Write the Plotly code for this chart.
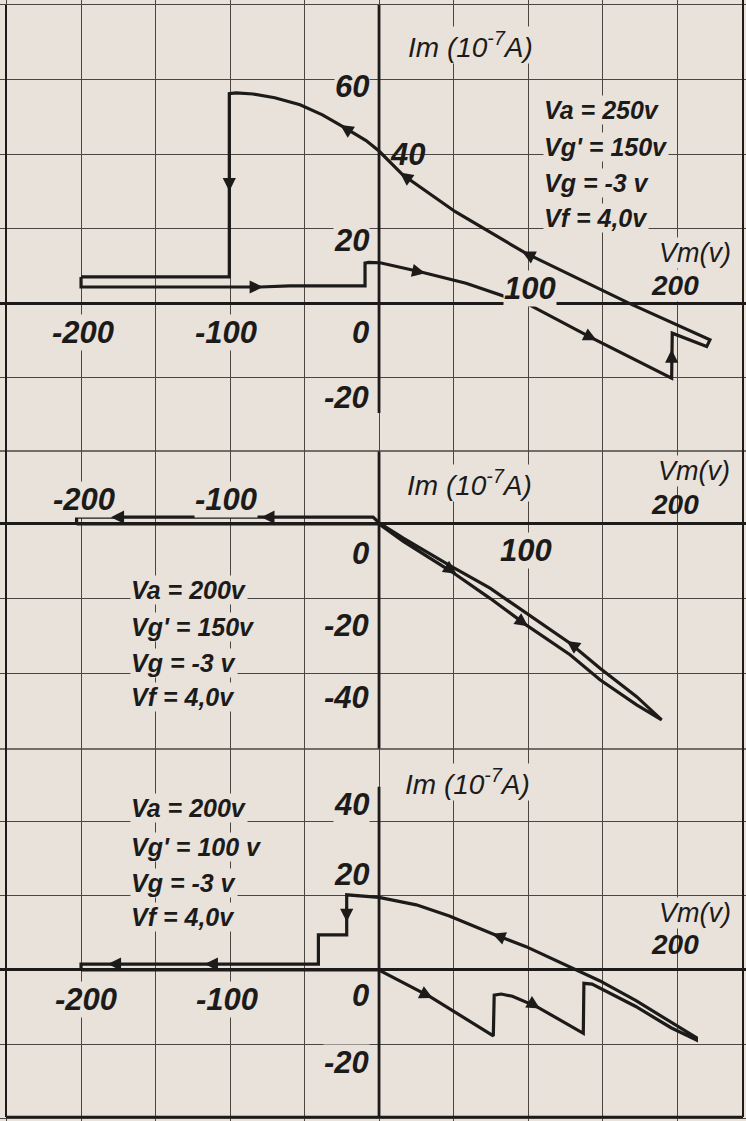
import plotly.graph_objects as go

# ---------------- data (Vm in volts, Im in 1e-7 A) ----------------
# Panel 1: Va = 250 V, Vg' = 150 V
p1_vm = [-200, -200, -80, -60, -9.4, -9.4, -7, 0.7, 27.5, 58.4, 100.9, 143.4, 196.4,
         196.8, 219.9, 222.1, 168, 98.7, 51.2, 15.9, 0, -8.7, -24, -38, -53, -70, -84.5,
         -96, -100.5, -100.5, -200]
p1_im = [7.0, 4.3, 4.3, 4.6, 4.6, 10.7, 10.9, 10.8, 8.4, 5.3, -0.5, -9.5, -20.2,
         -8.1, -11.7, -9.9, -0.1, 13.3, 24.5, 34.4, 40.8, 43.6, 47.3, 50.5, 53.2, 55.1,
         56.1, 56.4, 56.2, 7.0, 7.0]

# Panel 2: Va = 200 V, Vg' = 150 V
p2_vm = [-203, 0, 16.3, 48.8, 74.5, 98.7, 128.2, 148.3, 172.9, 189.7, 172.9, 148.3,
         128.2, 98.7, 74.5, 48.8, 16.3, 0, -4, -203, -203]
p2_im = [0, 0, -4.7, -12.8, -19.9, -27.0, -35.0, -41.7, -48.4, -52.4, -46.2, -38.6,
         -31.9, -23.9, -17.2, -11.4, -3.8, 0.3, 1.8, 1.8, 0]

# Panel 3: Va = 200 V, Vg' = 100 V
p3_vm = [-200, 0, 34.2, 76.7, 77.3, 82, 89.5, 105.8, 137.1, 137.5, 143, 172, 196, 213,
         213, 196, 172.5, 148, 123.7, 98.7, 78.5, 47.2, 25, 0, -21.7, -21.7, -40.7,
         -40.7, -200, -200]
p3_im = [0, 0, -7.2, -17.8, -6.8, -6.5, -7.1, -9.9, -17.1, -3.6, -3.8, -9.8, -15.6, -18.9,
         -18.3, -14.2, -8.3, -2.9, 1.6, 6.3, 9.4, 14.6, 17.6, 19.6, 20.3, 9.5, 9.5,
         1.6, 1.6, 0]

params = [
    ["Va = 250v", "Vg' = 150v", "Vg = -3 v", "Vf = 4,0v"],
    ["Va = 200v", "Vg' = 150v", "Vg = -3 v", "Vf = 4,0v"],
    ["Va = 200v", "Vg' = 100 v", "Vg = -3 v", "Vf = 4,0v"],
]
x_ticks = ["-200", "-100", "100", "200"]
y_ticks = [["60", "40", "20", "0", "-20"], ["0", "-20", "-40"], ["40", "20", "0", "-20"]]
y_title = "Im (10<sup>-7</sup>A)"
x_title = "Vm(v)"

# ---------------- styling ----------------
PAPER = "#e8e2da"
INK = "#1c1b1a"
GRID = "#4a4641"
W, H = 746, 1121
FONT = "Liberation Sans, Arial, DejaVu Sans"

# panel layout: (top px, bottom px, y range)
X_RANGE = [-254.4, 246.3]
panels = [
    (0, 451, [-39.73, 81.34]),
    (451, 749, [-60.2, 19.5]),
    (749, 1121, [-40.8, 59.7]),
]

fig = go.Figure()
curves = [(p1_vm, p1_im), (p2_vm, p2_im), (p3_vm, p3_im)]
for i, (vm, im) in enumerate(curves):
    sfx = "" if i == 0 else str(i + 1)
    fig.add_trace(go.Scatter(x=vm, y=im, mode="lines",
                             line=dict(color=INK, width=3.2),
                             xaxis="x" + sfx, yaxis="y" + sfx,
                             showlegend=False, hoverinfo="skip"))

layout = dict(width=W, height=H, margin=dict(l=0, r=0, t=0, b=0),
              paper_bgcolor=PAPER, plot_bgcolor=PAPER, showlegend=False)
for i, (top, bot, yr) in enumerate(panels):
    sfx = "" if i == 0 else str(i + 1)
    layout["xaxis" + sfx] = dict(range=X_RANGE, domain=[0, 1], dtick=50, tick0=0,
                                 showgrid=True, gridcolor=GRID, gridwidth=1.3,
                                 zeroline=False, showticklabels=False, ticks="",
                                 anchor="y" + sfx, fixedrange=True)
    layout["yaxis" + sfx] = dict(range=yr, domain=[1 - bot / H, 1 - top / H], dtick=20,
                                 tick0=0, showgrid=True, gridcolor=GRID, gridwidth=1.3,
                                 zeroline=True, zerolinecolor=INK, zerolinewidth=2.8,
                                 showticklabels=False, ticks="", anchor="x" + sfx,
                                 fixedrange=True)
fig.update_layout(**layout)

# vertical axes (Im axis) of each panel and panel frame lines
axis_extent = [(-29.5, 80), (-60.2, 19.5), (-40, 49.5)]
shapes = []
for i, (lo, hi) in enumerate(axis_extent):
    sfx = "" if i == 0 else str(i + 1)
    shapes.append(dict(type="line", xref="x" + sfx, yref="y" + sfx, x0=0, x1=0,
                       y0=lo, y1=hi, line=dict(color=INK, width=2.8)))
for ypx in (451, 749):
    shapes.append(dict(type="line", xref="paper", yref="paper", x0=0, x1=1,
                       y0=1 - ypx / H, y1=1 - ypx / H, line=dict(color=GRID, width=1.3)))
shapes.append(dict(type="line", xref="paper", yref="paper", x0=743 / W, x1=743 / W,
                   y0=1 - 1117 / H, y1=1, line=dict(color=INK, width=2)))
shapes.append(dict(type="line", xref="paper", yref="paper", x0=6 / W, x1=743 / W,
                   y0=1 - 1117 / H, y1=1 - 1117 / H, line=dict(color=INK, width=2.4)))
shapes.append(dict(type="line", xref="paper", yref="paper", x0=6 / W, x1=6 / W,
                   y0=1 - 1117 / H, y1=1 - 5 / H, line=dict(color=INK, width=2)))
fig.update_layout(shapes=shapes)

ann = []


def label(p, x, y, text, size=31, xanchor="center", bg=True, weight="bold"):
    sfx = "" if p == 0 else str(p + 1)
    ann.append(dict(x=x, y=y, xref="x" + sfx, yref="y" + sfx, text=text,
                    showarrow=False, xanchor=xanchor, yanchor="middle",
                    bgcolor=PAPER if bg else "rgba(0,0,0,0)", borderpad=0,
                    font=dict(family=FONT, size=size, color=INK, weight=weight,
                              style="italic")))


def arrow(p, tip, tail):
    sfx = "" if p == 0 else str(p + 1)
    ann.append(dict(x=tip[0], y=tip[1], ax=tail[0], ay=tail[1], xref="x" + sfx,
                    yref="y" + sfx, axref="x" + sfx, ayref="y" + sfx, text="",
                    showarrow=True, arrowhead=2, arrowsize=1.1, arrowwidth=2.4,
                    arrowcolor=INK, standoff=0))


# panel 1 labels
for t, y in zip(y_ticks[0], [58.0, 40.0, 16.9, -7.8, -25.5]):
    if t == "40":
        label(0, 6.7, y, t, xanchor="left", bg=False)
    else:
        label(0, -6, y, t, xanchor="right")
label(0, -198.7, -7.8, x_ticks[0])
label(0, -102.7, -7.8, x_ticks[1])
label(0, 101.3, 4.0, x_ticks[2])
label(0, 198.7, 4.6, x_ticks[3], size=28)
label(0, 212, 13.4, x_title, size=27, weight="normal")
label(0, 61.7, 69.3, y_title, size=28, weight="normal")
for t, y in zip(params[0], [51.8, 41.9, 32.2, 22.8]):
    label(0, 110.1, y, t, size=25, xanchor="left")

# panel 2 labels
label(1, -198, 6.4, x_ticks[0])
label(1, -102.7, 6.4, x_ticks[1])
label(1, 98.7, -7.0, x_ticks[2])
label(1, 198.7, 5.3, x_ticks[3], size=28, bg=False)
label(1, 211.4, 14.2, x_title, size=27, weight="normal")
label(1, 60.4, 11.0, y_title, size=28, weight="normal")
for t, y in zip(y_ticks[1], [-7.8, -27.3, -46.3]):
    label(1, -6, y, t, xanchor="right")
for t, y in zip(params[1], [-17.6, -27.5, -37.2, -46.3]):
    label(1, -167.1, y, t, size=25, xanchor="left")

# panel 3 labels
label(2, -196.6, -8.1, x_ticks[0])
label(2, -102, -8.1, x_ticks[1])
label(2, 198.7, 6.8, x_ticks[3], size=28, bg=False)
label(2, 212, 15.4, x_title, size=27, weight="normal")
label(2, 59.7, 50.8, y_title, size=28, weight="normal")
for t, y in zip(y_ticks[2], [44.6, 25.7, -6.8, -24.9]):
    label(2, -6, y, t, xanchor="right")
for t, y in zip(params[2], [43.8, 33.2, 23.5, 14.3]):
    label(2, -167.1, y, t, size=25, xanchor="left")

# direction arrows along the loops
arrow(0, (-100.5, 30), (-100.5, 35))
arrow(0, (-78, 4.3), (-88, 4.3))
arrow(0, (-26, 47.8), (-18, 45.7))
arrow(0, (14, 35.0), (22, 32.7))
arrow(0, (96, 13.8), (106, 11.8))
arrow(0, (31, 8.0), (23, 8.7))
arrow(0, (146, -10.0), (138, -8.4))
arrow(0, (196.4, -12.5), (196.4, -16.5))

arrow(1, (-180, 1.8), (-170, 1.8))
arrow(1, (-79, 1.8), (-69, 1.8))
arrow(1, (52, -13.3), (44, -11.2))
arrow(1, (100, -27.4), (92, -25.1))
arrow(1, (126, -31.3), (134, -33.5))

arrow(2, (-182, 1.6), (-172, 1.6))
arrow(2, (-117, 1.6), (-107, 1.6))
arrow(2, (-21.7, 13), (-21.7, 17.5))
arrow(2, (76, 9.8), (84, 8.6))
arrow(2, (36, -7.6), (28, -6.0))
arrow(2, (108, -10.4), (100, -8.5))

fig.update_layout(annotations=ann)
fig.write_html("out.html")
